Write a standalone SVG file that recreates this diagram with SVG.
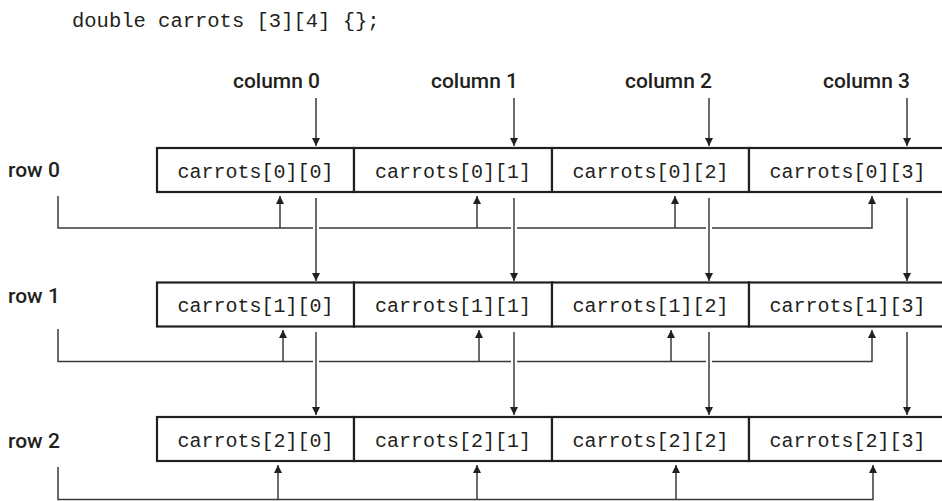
<svg xmlns="http://www.w3.org/2000/svg" width="942" height="501" viewBox="0 0 942 501">
<style>
.bg{fill:#ffffff}
.cell{fill:#ffffff;stroke:#231f20;stroke-width:2.2}
.code{font-family:"Liberation Mono","DejaVu Sans Mono",monospace;font-size:20px;fill:#231f20}
.title{font-family:"Liberation Mono","DejaVu Sans Mono",monospace;font-size:20.5px;fill:#231f20}
.lab{font-family:Roboto,"Liberation Sans",sans-serif;font-weight:500;font-size:21px;fill:#231f20}
.con{fill:none;stroke:#3a3a3a;stroke-width:1.5}
.halo{fill:none;stroke:#ffffff;stroke-width:6}
</style>
<defs>
<marker id="ah" viewBox="0 0 10 10" refX="10" refY="5" markerWidth="9" markerHeight="8" orient="auto" markerUnits="userSpaceOnUse">
<path d="M0,0 L10,5 L0,10 z" fill="#231f20"/>
</marker>
</defs>
<rect class="bg" x="0" y="0" width="942" height="501"/>
<text id="title" class="title" x="72" y="27">double carrots [3][4] {};</text>
<g id="column-labels">
<text id="col0" class="lab" x="320" y="88" text-anchor="end">column 0</text>
<text id="col1" class="lab" x="518" y="88" text-anchor="end">column 1</text>
<text id="col2" class="lab" x="712" y="88" text-anchor="end">column 2</text>
<text id="col3" class="lab" x="910" y="88" text-anchor="end">column 3</text>
</g>
<g id="row-labels">
<text id="row0" class="lab" x="8" y="177">row 0</text>
<text id="row1" class="lab" x="8" y="303">row 1</text>
<text id="row2" class="lab" x="8" y="448">row 2</text>
</g>
<g id="connectors">
<line class="con" x1="316" y1="98" x2="316" y2="146" marker-end="url(#ah)"/>
<line class="con" x1="514" y1="98" x2="514" y2="146" marker-end="url(#ah)"/>
<line class="con" x1="709" y1="98" x2="709" y2="146" marker-end="url(#ah)"/>
<line class="con" x1="907" y1="98" x2="907" y2="146" marker-end="url(#ah)"/>
<path class="con" d="M58,196 V228 H872 V196" marker-end="url(#ah)"/>
<line class="con" x1="280" y1="228" x2="280" y2="196" marker-end="url(#ah)"/>
<line class="con" x1="477" y1="228" x2="477" y2="196" marker-end="url(#ah)"/>
<line class="con" x1="675" y1="228" x2="675" y2="196" marker-end="url(#ah)"/>
<path class="halo" d="M316,222 V234 M514,222 V234 M709,222 V234"/>
<line class="con" x1="316" y1="198" x2="316" y2="281" marker-end="url(#ah)"/>
<line class="con" x1="514" y1="198" x2="514" y2="281" marker-end="url(#ah)"/>
<line class="con" x1="709" y1="198" x2="709" y2="281" marker-end="url(#ah)"/>
<line class="con" x1="907" y1="198" x2="907" y2="281" marker-end="url(#ah)"/>
<path class="con" d="M58,329 V361.5 H872 V330" marker-end="url(#ah)"/>
<line class="con" x1="283" y1="361.5" x2="283" y2="330" marker-end="url(#ah)"/>
<line class="con" x1="479" y1="361.5" x2="479" y2="330" marker-end="url(#ah)"/>
<line class="con" x1="671" y1="361.5" x2="671" y2="330" marker-end="url(#ah)"/>
<path class="halo" d="M316,355 V368 M514,355 V368 M709,355 V368"/>
<line class="con" x1="316" y1="332" x2="316" y2="415" marker-end="url(#ah)"/>
<line class="con" x1="514" y1="332" x2="514" y2="415" marker-end="url(#ah)"/>
<line class="con" x1="709" y1="332" x2="709" y2="415" marker-end="url(#ah)"/>
<line class="con" x1="907" y1="332" x2="907" y2="415" marker-end="url(#ah)"/>
<path class="con" d="M58,467 V499.5 H873 V465" marker-end="url(#ah)"/>
<line class="con" x1="278" y1="499.5" x2="278" y2="465" marker-end="url(#ah)"/>
<line class="con" x1="477" y1="499.5" x2="477" y2="465" marker-end="url(#ah)"/>
<line class="con" x1="676" y1="499.5" x2="676" y2="465" marker-end="url(#ah)"/>
</g>
<g id="cell-0-0"><rect class="cell" x="157" y="148" width="197" height="44"/><text class="code" x="255.5" y="177.5" text-anchor="middle">carrots[0][0]</text></g>
<g id="cell-0-1"><rect class="cell" x="354" y="148" width="198" height="44"/><text class="code" x="453" y="177.5" text-anchor="middle">carrots[0][1]</text></g>
<g id="cell-0-2"><rect class="cell" x="552" y="148" width="197" height="44"/><text class="code" x="650.5" y="177.5" text-anchor="middle">carrots[0][2]</text></g>
<g id="cell-0-3"><rect class="cell" x="749" y="148" width="197" height="44"/><text class="code" x="847.5" y="177.5" text-anchor="middle">carrots[0][3]</text></g>
<g id="cell-1-0"><rect class="cell" x="157" y="282.5" width="197" height="44"/><text class="code" x="255.5" y="312" text-anchor="middle">carrots[1][0]</text></g>
<g id="cell-1-1"><rect class="cell" x="354" y="282.5" width="198" height="44"/><text class="code" x="453" y="312" text-anchor="middle">carrots[1][1]</text></g>
<g id="cell-1-2"><rect class="cell" x="552" y="282.5" width="197" height="44"/><text class="code" x="650.5" y="312" text-anchor="middle">carrots[1][2]</text></g>
<g id="cell-1-3"><rect class="cell" x="749" y="282.5" width="197" height="44"/><text class="code" x="847.5" y="312" text-anchor="middle">carrots[1][3]</text></g>
<g id="cell-2-0"><rect class="cell" x="157" y="417" width="197" height="44"/><text class="code" x="255.5" y="446.5" text-anchor="middle">carrots[2][0]</text></g>
<g id="cell-2-1"><rect class="cell" x="354" y="417" width="198" height="44"/><text class="code" x="453" y="446.5" text-anchor="middle">carrots[2][1]</text></g>
<g id="cell-2-2"><rect class="cell" x="552" y="417" width="197" height="44"/><text class="code" x="650.5" y="446.5" text-anchor="middle">carrots[2][2]</text></g>
<g id="cell-2-3"><rect class="cell" x="749" y="417" width="197" height="44"/><text class="code" x="847.5" y="446.5" text-anchor="middle">carrots[2][3]</text></g>
</svg>
